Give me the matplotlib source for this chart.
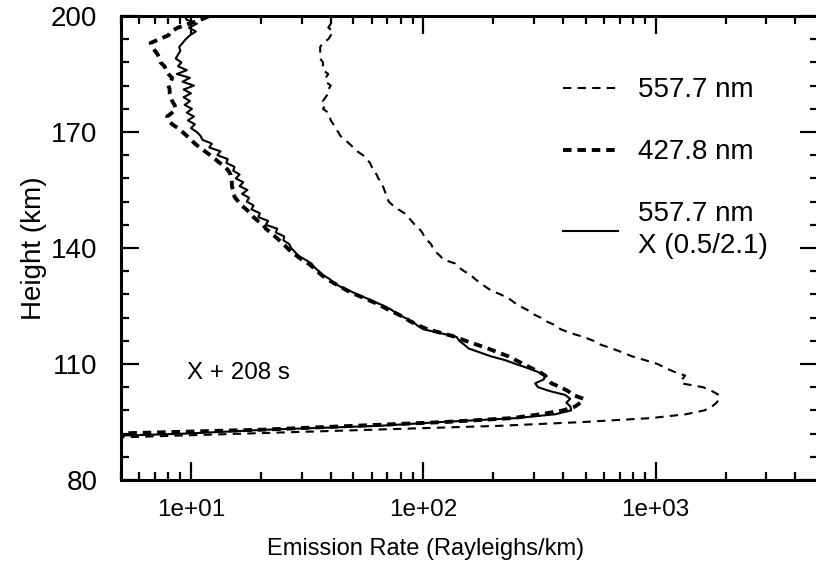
import matplotlib
matplotlib.use('Agg')
import matplotlib.pyplot as plt
from matplotlib.ticker import FixedLocator, LogLocator, FuncFormatter, NullFormatter

plt.rcParams['font.family'] = ['Liberation Sans', 'DejaVu Sans']

# Heights (km), 1-km steps
heights = list(range(90, 201))

# 557.7 nm (thin dashed)
em5577 = [1.5, 4.8, 17, 60, 210, 490, 950, 1350, 1620, 1750,
          1830, 1880, 1870, 1750, 1600, 1290, 1300, 1340, 1200, 1100,
          1020, 900, 790, 720, 650, 580, 540, 490, 430, 390,
          370, 340, 320, 295, 280, 260, 245, 233, 215, 196,
          185, 175, 167, 160, 150, 142, 137, 122, 118, 113,
          110, 108, 104, 101, 99, 96, 92, 89, 86, 83,
          78, 74, 71, 70, 69, 68, 67, 66, 64, 63,
          61, 60, 59, 57, 55, 52, 50, 48, 46, 44,
          43, 42, 41, 40, 39.5, 39, 37, 38, 37, 38,
          39, 39, 40, 38, 38, 39, 37, 37, 37, 36,
          36, 36, 36, 37, 39, 40, 41, 39, 40, 39,
          39]

# 427.8 nm (thick dashed)
em4278 = [1.2, 2, 4.6, 20, 50, 124, 240, 320, 400, 450,
          475, 490, 440, 420, 390, 356, 345, 335, 315, 290,
          270, 250, 232, 210, 190, 170, 152, 138, 120, 104,
          95, 88, 83, 77, 71, 66, 61, 56, 51, 47,
          44, 41, 38.5, 36.5, 35, 33.5, 32, 30, 28.5, 27,
          26, 25, 24, 23, 22, 21, 20.5, 19.4, 18.6, 18,
          17.3, 16.5, 16, 15.5, 15.2, 15.2, 15, 15, 14.9, 14.8,
          14.5, 14, 13.3, 12.7, 12.1, 11.5, 10.9, 10.4, 10, 9.6,
          9.2, 8.8, 8.3, 8.0, 7.9, 8.3, 8.6, 8.5, 8.3, 8.2,
          8.1, 8.1, 8.0, 8.2, 8.3, 8.0, 7.8, 7.7, 7.4, 7.3,
          7.2, 7.0, 6.8, 6.7, 7.3, 8.0, 8.2, 8.8, 9.8, 11,
          12]

# 557.7 nm scaled X (0.5/2.1) (solid)
em5577x = [1.5, 2.8, 9.5, 21, 64, 120, 250, 370, 433, 430,
           413, 429, 408, 350, 312, 303, 330, 334, 310, 280,
           250, 225, 195, 175, 157, 150, 143, 139, 118, 100,
           94, 90, 83, 77, 73, 68, 62, 57, 52, 48,
           44, 41, 39.5, 37, 35.5, 34, 33, 31, 29, 28,
           27, 26.5, 25, 25.2, 23.2, 23.5, 21, 21.5, 19.5, 19.8,
           18.2, 18.6, 17.4, 17.8, 16.6, 17.5, 16.2, 16.8, 15.6, 16.2,
           15.2, 15.4, 14.2, 14.4, 13.0, 13.4, 12.0, 12.3, 11.2, 11.0,
           10.6, 10.0, 10.4, 9.7, 10.3, 9.6, 10.1, 9.4, 9.9, 9.3,
           10.0, 9.3, 10.3, 9.2, 9.9, 8.7, 9.6, 8.8, 9.1, 8.6,
           8.8, 9.0, 8.9, 9.2, 9.5, 9.9, 10.5, 9.8, 10.6, 9.6,
           9.4]

tick_vals = [10, 100, 1000]
y_major = [80, 110, 140, 170, 200]
y_minor = list(range(80, 201, 6))

fig = plt.figure(figsize=(8.16, 5.70), dpi=100)
ax = fig.add_axes([121/816, 90/570, (818-121)/816, (480-16)/570])

ax.plot(em5577, heights, color='black', lw=1.5, ls=(0, (4, 3)), label='557.7 nm')
ax.plot(em4278, heights, color='black', lw=2.8, ls=(0, (2.2, 1.5)), label='427.8 nm')
ax.plot(em5577x, heights, color='black', lw=1.5, ls='-', label='557.7 nm\nX (0.5/2.1)')

ax.set_xscale('log')
ax.set_xlim(5, 5000)
ax.set_ylim(80, 200)

ax.xaxis.set_major_locator(FixedLocator(tick_vals))
ax.xaxis.set_major_formatter(FuncFormatter(lambda v, p: '{:.0e}'.format(v)))
ax.xaxis.set_minor_locator(LogLocator(base=10, subs=range(2, 10)))
ax.xaxis.set_minor_formatter(NullFormatter())
ax.yaxis.set_major_locator(FixedLocator(y_major))
ax.yaxis.set_minor_locator(FixedLocator(y_minor))

for s in ax.spines.values():
    s.set_linewidth(2.2)

ax.tick_params(which='both', direction='in', top=True, right=True, width=1.6)
ax.tick_params(which='major', length=13)
ax.tick_params(which='minor', length=6)
ax.tick_params(axis='y', pad=17, labelsize=20)
ax.tick_params(axis='x', pad=14, labelsize=17.5)

ax.set_xlabel('Emission Rate (Rayleighs/km)', fontsize=17, labelpad=12, x=0.4376)
ax.set_ylabel('Height (km)', fontsize=20, labelpad=3)

ax.text(0.095, 0.23, 'X + 208 s', transform=ax.transAxes, fontsize=17.4, va='center', ha='left')

leg = ax.legend(loc='upper left', bbox_to_anchor=(0.634, 0.868), frameon=False, fontsize=20,
                handlelength=2.0, handletextpad=0.72, labelspacing=1.3, borderpad=0, borderaxespad=0)
for t in leg.get_texts():
    t.set_linespacing(1.3)

fig.savefig('out.png', dpi=100)
